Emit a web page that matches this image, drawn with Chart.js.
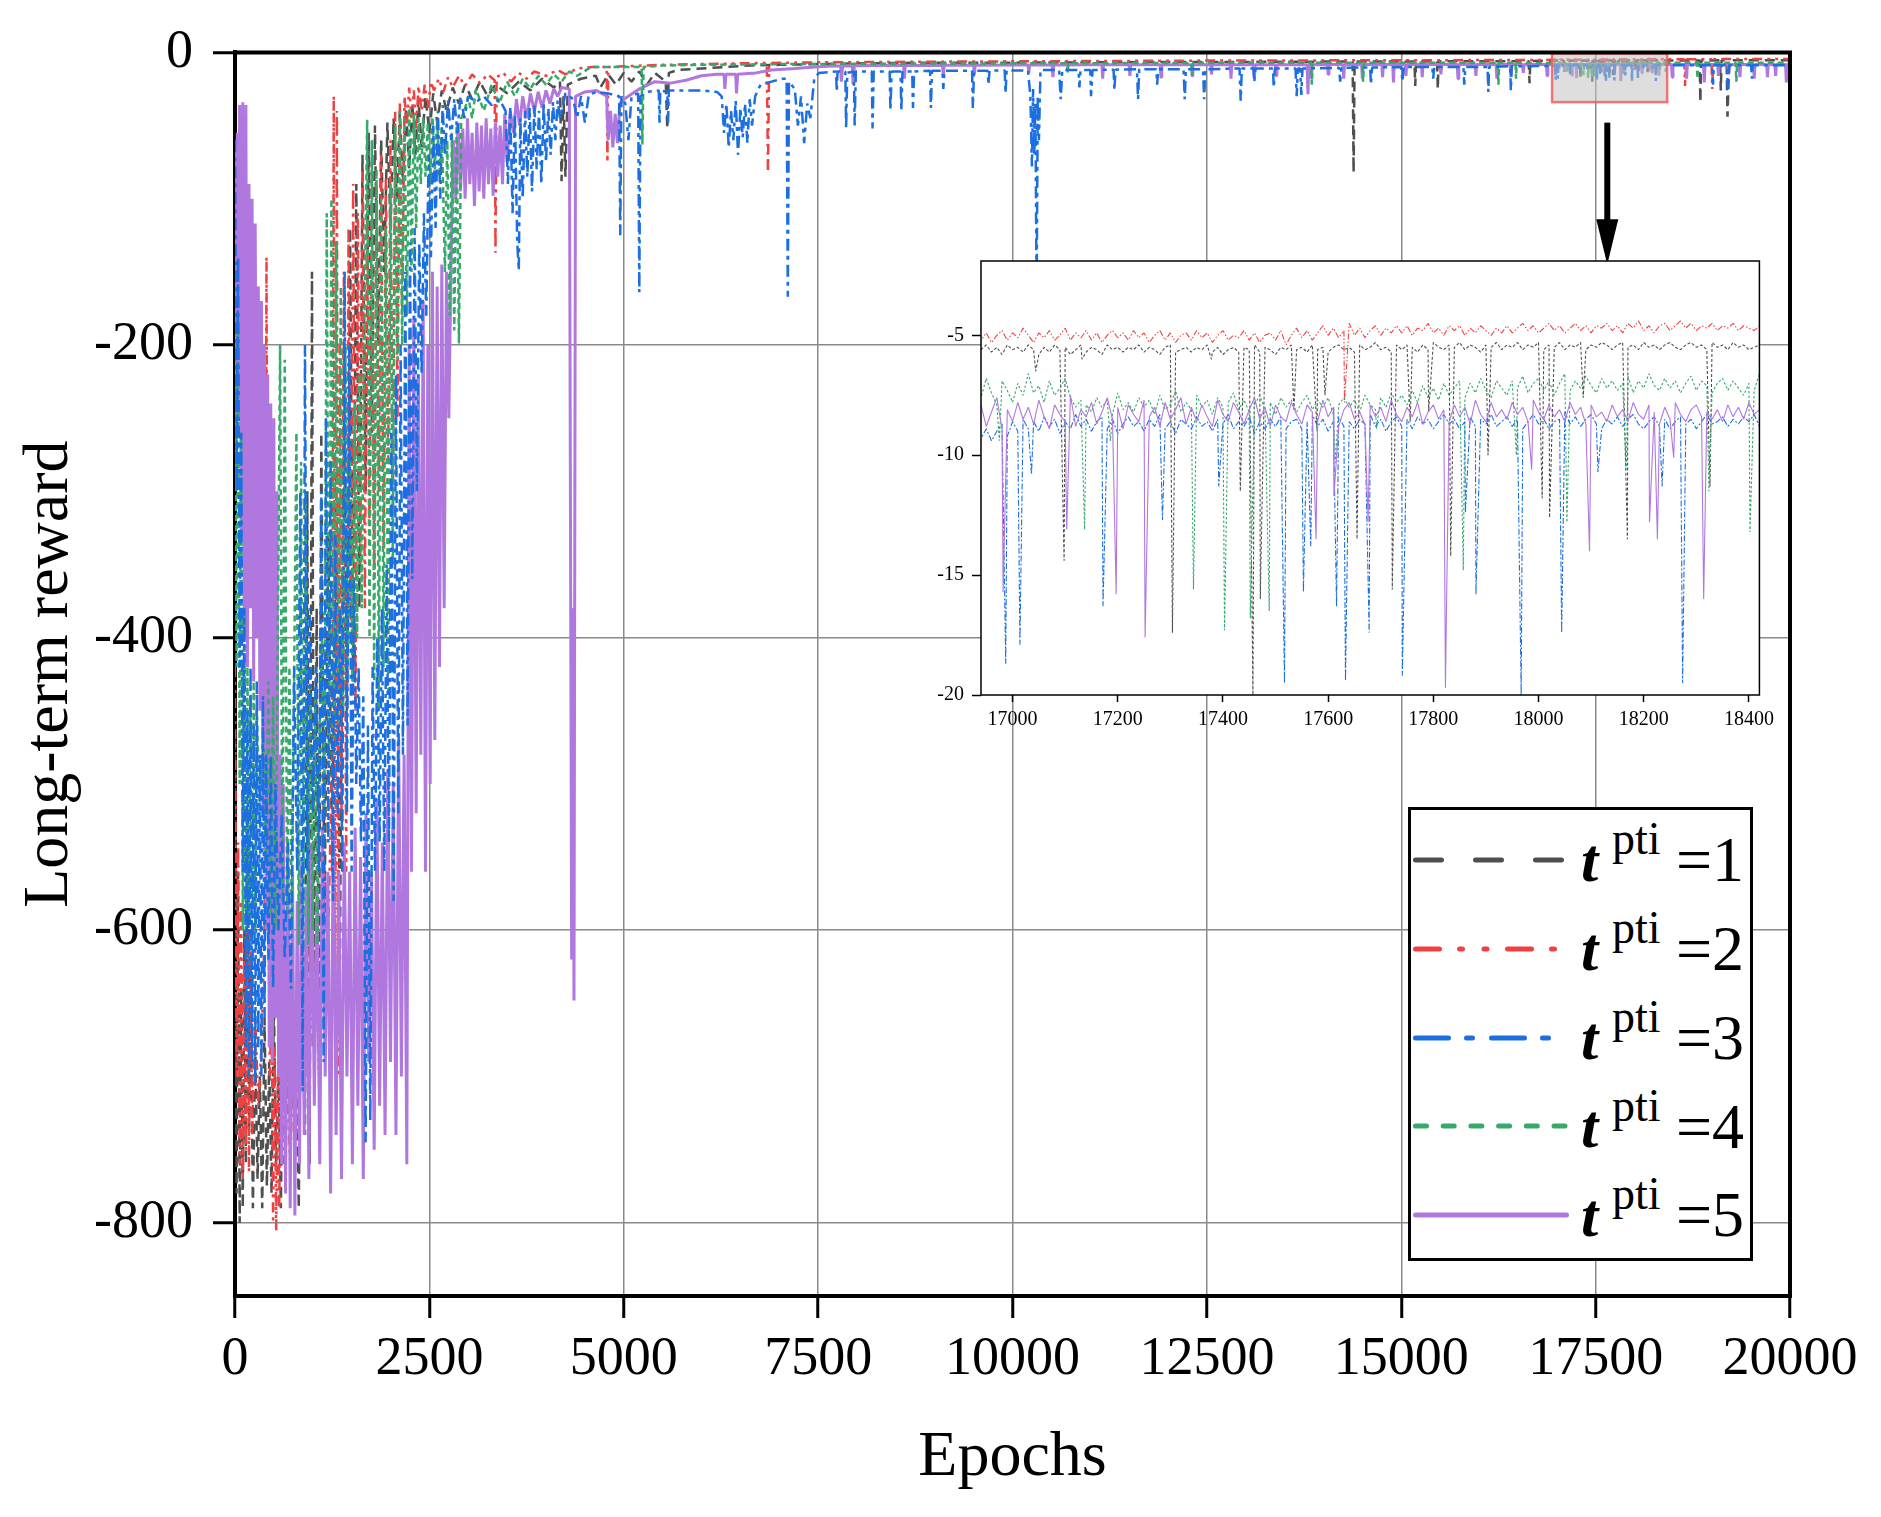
<!DOCTYPE html>
<html>
<head>
<meta charset="utf-8">
<script src="https://cdn.jsdelivr.net/npm/chart.js@4.4.1/dist/chart.umd.min.js"></script>
<style>
  body { margin: 0; background: #fff; }
  #wrap { position: relative; width: 1881px; height: 1517px; font-family: "Liberation Serif", "Times New Roman", serif; }
  #main { position: absolute; left: 0; top: 0; }
  #inset { position: absolute; left: 900px; top: 231px; }
  #legend { position: absolute; left: 1408px; top: 807px; width: 339px; height: 448px; border: 3px solid #000; background: #fff; }
  .row-line { position: absolute; left: 2px; }
  .txt { position: absolute; line-height: 1; white-space: nowrap; color: #000; }
</style>
</head>
<body>
<div id="wrap">
  <canvas id="main" width="1881" height="1517"></canvas>
  <canvas id="inset" width="880" height="520"></canvas>
  <div id="legend"></div>
</div>
<script>
// axis ticks
const xTicks = [0, 2500, 5000, 7500, 10000, 12500, 15000, 17500, 20000];
const yTicks = [-800, -600, -400, -200, 0];
const insetXTicks = [17000, 17200, 17400, 17600, 17800, 18000, 18200, 18400];
const insetYTicks = [-20, -15, -10, -5];

// zoomed window (grey box + inset)
const zoomMin = 16940;
const zoomMax = 18420;
const zoomStep = 10;

const seriesNames = ["1", "2", "3", "4", "5"];

// t_pti = 1 (long-run curve, outside the zoom window)
const main1 = [
  [0,-470],[20,-780],[40,-560],[60,-800],[80,-640],[100,-790],[120,-600],[140,-760],[160,-520],[180,-740],
  [200,-620],[230,-790],[260,-680],[290,-770],[320,-700],[350,-790],[380,-660],[410,-775],[440,-690],[470,-780],
  [500,-650],[530,-760],[560,-700],[590,-790],[620,-640],[650,-770],[690,-600],[730,-720],[780,-660],[820,-790],
  [860,-560],[900,-740],[930,-300],[960,-760],[990,-150],[1020,-700],[1050,-380],[1080,-680],[1110,-260],[1150,-600],
  [1200,-330],[1250,-560],[1300,-280],[1350,-620],[1400,-200],[1440,-450],[1480,-120],[1520,-430],[1560,-90],[1600,-380],
  [1640,-70],[1680,-300],[1720,-55],[1760,-260],[1800,-50],[1840,-200],[1880,-60],[1920,-150],[1960,-48],[2000,-120],
  [2040,-45],[2080,-100],[2120,-40],[2160,-90],[2200,-38],[2240,-80],[2280,-35],[2320,-70],[2360,-32],[2400,-65],
  [2450,-30],[2500,-55],[2550,-28],[2600,-48],[2660,-26],[2720,-40],[2800,-24],[2880,-35],[2960,-22],[3050,-32],
  [3150,-20],[3250,-30],[3350,-22],[3500,-28],[3650,-20],[3800,-26],[3950,-18],[4100,-24],[4180,-20],[4200,-88],
  [4225,-30],[4250,-85],[4280,-22],[4450,-18],[4640,-16],[4700,-24],[4800,-15],[4900,-22],[5000,-14],[5100,-20],
  [5200,-13],[5300,-22],[5400,-14],[5540,-20],[5560,-52],[5580,-14],[5700,-12],[6000,-11],[6300,-10],[6600,-9],
  [7000,-8.5],[7500,-8],[8000,-7.5],[9000,-7],[10000,-7],[11000,-6.8],[12000,-6.5],[13000,-6.5],[14000,-6.3],[14375,-6.3],
  [14387,-82],[14400,-6.3],[15170,-6.2],[15180,-23],[15190,-6.2],[15460,-6.1],[15470,-25],[15480,-6.1],[16000,-6],[16640,-6],
  [16650,-21],[16660,-5.9],[16930,-5.6],
  [18430,-5.5],[18838,-5.5],[18847,-34],[18856,-5.5],[19100,-5.4],[19110,-26],[19120,-5.4],[19185,-5.4],[19196,-44],[19210,-20],
  [19225,-5.4],[20000,-5.3]
];

// t_pti = 2
const main2 = [
  [0,-420],[20,-700],[40,-540],[60,-760],[80,-580],[100,-770],[120,-620],[140,-750],[160,-560],[180,-765],
  [200,-600],[220,-740],[260,-660],[300,-720],[340,-680],[380,-600],[405,-140],[425,-560],[450,-700],[470,-640],
  [490,-800],[510,-680],[530,-805],[550,-700],[570,-790],[590,-660],[630,-760],[670,-700],[710,-760],[750,-690],
  [800,-740],[850,-640],[900,-700],[950,-560],[1000,-680],[1040,-620],[1080,-700],[1110,-640],[1150,-560],[1200,-600],
  [1250,-480],[1270,-30],[1290,-650],[1310,-40],[1330,-700],[1350,-200],[1370,-520],[1400,-150],[1430,-560],[1460,-120],
  [1490,-400],[1520,-90],[1550,-450],[1580,-110],[1610,-350],[1640,-80],[1670,-380],[1700,-100],[1730,-330],[1760,-75],
  [1790,-360],[1820,-90],[1850,-300],[1880,-70],[1910,-340],[1940,-85],[1970,-280],[2000,-60],[2030,-320],[2060,-40],
  [2090,-250],[2120,-35],[2150,-180],[2180,-30],[2210,-50],[2240,-24],[2270,-45],[2300,-26],[2330,-52],[2360,-23],
  [2400,-40],[2440,-22],[2480,-38],[2520,-20],[2560,-26],[2620,-18],[2680,-27],[2740,-17],[2800,-24],[2880,-16],
  [2960,-23],[3050,-15],[3150,-21],[3250,-15],[3340,-19],[3350,-137],[3365,-17],[3450,-14],[3550,-20],[3650,-14],
  [3750,-18],[3850,-13],[4000,-16],[4150,-12],[4250,-15],[4400,-11],[4600,-10],[4780,-10],[4790,-75],[4800,-10],
  [5000,-9.5],[5500,-8.5],[6000,-8],[6500,-7.5],[6840,-7.2],[6855,-82],[6870,-7.2],[7500,-6.8],[8500,-6.5],[9500,-6.2],
  [10500,-6],[11500,-5.8],[12500,-5.6],[13500,-5.5],[14500,-5.4],[15500,-5.3],[16500,-5.2],[16930,-5.1],
  [18430,-4.7],[18640,-4.7],[18650,-23],[18660,-4.7],[18990,-4.6],[19000,-25],[19010,-4.6],[20000,-4.5]
];

// t_pti = 3
const main3 = [
  [0,-60],[20,-300],[40,-140],[60,-420],[80,-260],[100,-560],[120,-380],[140,-680],[160,-450],[180,-700],
  [200,-420],[220,-690],[240,-460],[260,-705],[280,-430],[300,-680],[320,-480],[340,-700],[360,-440],[380,-660],
  [400,-480],[430,-620],[460,-480],[490,-640],[520,-500],[560,-600],[600,-520],[640,-620],[680,-540],[720,-640],
  [760,-420],[800,-560],[840,-300],[870,-710],[900,-200],[930,-560],[960,-380],[1000,-520],[1040,-420],[1080,-560],
  [1110,-300],[1140,-690],[1170,-250],[1200,-540],[1230,-280],[1260,-580],[1290,-330],[1320,-520],[1350,-380],[1380,-560],
  [1410,-150],[1440,-520],[1470,-200],[1500,-560],[1530,-360],[1560,-500],[1590,-420],[1620,-540],[1650,-440],[1680,-745],
  [1710,-460],[1740,-730],[1770,-420],[1800,-560],[1830,-400],[1860,-540],[1890,-380],[1920,-560],[1950,-350],[1980,-540],
  [2010,-260],[2040,-580],[2070,-220],[2100,-520],[2130,-200],[2160,-480],[2190,-150],[2220,-460],[2250,-130],[2280,-360],
  [2310,-120],[2340,-300],[2370,-130],[2400,-220],[2430,-110],[2460,-180],[2490,-70],[2520,-140],[2550,-50],[2580,-120],
  [2610,-40],[2640,-100],[2670,-36],[2700,-70],[2740,-33],[2780,-60],[2820,-32],[2860,-55],[2900,-30],[2950,-45],
  [3000,-30],[3100,-34],[3200,-30],[3300,-36],[3400,-32],[3480,-40],[3510,-90],[3540,-38],[3570,-110],[3600,-42],
  [3630,-130],[3650,-149],[3670,-45],[3700,-100],[3730,-40],[3760,-85],[3790,-38],[3820,-95],[3850,-36],[3880,-80],
  [3910,-40],[3940,-90],[3970,-35],[4000,-75],[4030,-38],[4060,-70],[4090,-34],[4120,-60],[4150,-33],[4180,-45],
  [4250,-28],[4350,-32],[4400,-45],[4450,-30],[4500,-48],[4550,-29],[4650,-27],[4800,-28],[4940,-30],[4955,-125],
  [4970,-30],[5020,-35],[5060,-60],[5100,-30],[5185,-28],[5200,-164],[5215,-30],[5300,-27],[5450,-26],[5460,-48],
  [5470,-26],[5560,-27],[5570,-48],[5580,-26],[5800,-26],[6000,-26],[6200,-27],[6260,-30],[6290,-55],[6320,-35],
  [6350,-65],[6380,-40],[6410,-60],[6440,-33],[6470,-70],[6500,-38],[6530,-58],[6560,-35],[6590,-62],[6620,-32],
  [6650,-50],[6690,-30],[6760,-22],[6900,-20],[7050,-18],[7095,-18],[7110,-167],[7125,-20],[7200,-25],[7240,-50],
  [7280,-30],[7320,-62],[7360,-35],[7400,-45],[7450,-18],[7510,-14],[7730,-13],[7740,-27],[7750,-13],[7850,-13],
  [7860,-52],[7875,-14],[7960,-13],[7970,-50],[7985,-13],[8190,-13],[8200,-52],[8215,-13],[8420,-13],[8430,-40],
  [8445,-13],[8560,-13],[8570,-40],[8585,-13],[8710,-13],[8720,-38],[8735,-13],[8940,-12.5],[8950,-38],[8965,-12.5],
  [9100,-12.5],[9110,-25],[9125,-12.5],[9480,-12.5],[9490,-38],[9505,-12.5],[9680,-12.5],[9690,-22],[9705,-12.5],[9900,-12.3],
  [9910,-28],[9925,-12.3],[10200,-12.5],[10230,-30],[10250,-78],[10265,-25],[10280,-70],[10295,-35],[10310,-172],[10325,-30],
  [10340,-60],[10360,-12],[10600,-12],[10620,-32],[10640,-12],[10850,-12],[10860,-24],[10875,-12],[11000,-12],[11010,-30],
  [11030,-12],[11300,-11.8],[11310,-26],[11325,-11.8],[11600,-11.5],[11615,-32],[11630,-11.5],[11850,-11.6],[11860,-22],[11875,-11.6],
  [12200,-11.5],[12215,-32],[12230,-11.5],[12450,-11.5],[12465,-32],[12480,-11.5],[12920,-11],[12935,-33],[12950,-11],[13100,-11],
  [13110,-20],[13125,-11],[13350,-11],[13360,-24],[13375,-11],[13640,-11],[13655,-30],[13670,-11],[13700,-11],[13715,-29],
  [13730,-11],[14200,-10.5],[14215,-20],[14230,-10.5],[14600,-10.3],[14610,-22],[14625,-10.3],[15000,-10],[15015,-20],[15030,-10],
  [15400,-10],[15410,-18],[15425,-10],[15800,-10],[15810,-22],[15825,-10],[16110,-10],[16120,-27],[16130,-10],[16400,-9.5],
  [16410,-26],[16420,-9.5],[16930,-9.2],
  [18430,-8.7],[19000,-8.8],[19010,-22],[19020,-8.8],[19190,-8.8],[19200,-25],[19215,-8.8],[19500,-8.8],[19510,-18],[19520,-8.8],
  [20000,-8.7]
];

// t_pti = 4
const main4 = [
  [0,-200],[20,-420],[40,-190],[60,-500],[80,-260],[100,-600],[120,-380],[140,-610],[160,-420],[180,-590],
  [200,-440],[220,-610],[240,-430],[260,-600],[280,-450],[320,-520],[360,-470],[400,-560],[430,-430],[460,-590],
  [490,-440],[520,-600],[550,-400],[580,-200],[610,-580],[640,-210],[670,-590],[700,-420],[730,-600],[760,-430],
  [790,-260],[820,-610],[850,-280],[880,-590],[910,-300],[940,-610],[970,-420],[1000,-600],[1030,-440],[1060,-610],
  [1090,-460],[1120,-400],[1150,-520],[1180,-110],[1210,-500],[1240,-100],[1270,-480],[1300,-130],[1330,-460],[1360,-160],
  [1390,-450],[1420,-200],[1450,-420],[1480,-260],[1510,-430],[1540,-240],[1570,-400],[1600,-220],[1630,-380],[1660,-200],
  [1700,-46],[1730,-400],[1760,-60],[1790,-430],[1820,-80],[1850,-450],[1880,-100],[1910,-420],[1940,-120],[1970,-440],
  [2000,-90],[2030,-350],[2060,-50],[2090,-210],[2120,-40],[2150,-200],[2180,-45],[2210,-180],[2240,-38],[2270,-150],
  [2300,-42],[2330,-120],[2360,-45],[2390,-90],[2420,-45],[2450,-85],[2480,-48],[2510,-90],[2540,-44],[2570,-80],
  [2600,-46],[2630,-85],[2660,-50],[2700,-150],[2730,-60],[2760,-180],[2790,-55],[2820,-190],[2850,-50],[2880,-199],
  [2910,-45],[2950,-40],[3000,-30],[3050,-45],[3100,-25],[3200,-40],[3300,-22],[3400,-35],[3500,-20],[3600,-30],
  [3700,-18],[3800,-25],[3900,-16],[4000,-22],[4100,-15],[4200,-20],[4300,-13],[4400,-16],[4580,-10],[4800,-10],
  [5000,-10],[5230,-10],[5240,-63],[5255,-10],[5500,-9],[6000,-8.5],[7000,-8],[8000,-7.8],[9000,-7.6],[10000,-7.5],
  [10700,-7.4],[10710,-14],[10720,-7.4],[11000,-7.4],[12000,-7.2],[12300,-7.2],[12310,-16],[12320,-7.2],[13000,-7.1],[13840,-7],
  [13850,-22],[13860,-7],[14500,-7],[14510,-20],[14520,-7],[15000,-7],[16240,-7],[16250,-22],[16260,-7],[16470,-7],
  [16476,-18],[16485,-7],[16930,-7.4],
  [18430,-7.1],[18800,-7.1],[18810,-18],[18820,-7.1],[19300,-7],[19310,-20],[19320,-7],[20000,-7]
];

// t_pti = 5
const main5 = [
  [0,-60],[15,-300],[30,-55],[45,-250],[60,-36],[80,-330],[100,-34],[120,-400],[140,-36],[160,-420],
  [180,-90],[200,-380],[220,-100],[240,-430],[260,-117],[280,-400],[300,-160],[320,-450],[340,-170],[360,-520],
  [380,-200],[400,-600],[420,-220],[440,-680],[460,-240],[480,-690],[500,-250],[520,-660],[540,-300],[560,-700],
  [580,-480],[600,-760],[620,-500],[650,-780],[680,-540],[710,-790],[740,-560],[770,-795],[800,-580],[830,-760],
  [860,-550],[890,-740],[920,-570],[950,-770],[985,-540],[1020,-720],[1055,-570],[1090,-760],[1125,-530],[1160,-700],
  [1195,-560],[1230,-780],[1265,-520],[1300,-740],[1335,-560],[1370,-770],[1405,-540],[1440,-700],[1475,-560],[1510,-760],
  [1545,-530],[1580,-720],[1615,-550],[1650,-770],[1685,-520],[1720,-690],[1755,-560],[1790,-750],[1825,-510],[1860,-720],
  [1895,-540],[1930,-740],[1965,-490],[2000,-690],[2035,-500],[2070,-740],[2105,-470],[2140,-700],[2175,-480],[2210,-760],
  [2240,-200],[2270,-560],[2300,-180],[2330,-520],[2360,-220],[2390,-480],[2420,-170],[2450,-560],[2480,-200],[2510,-500],
  [2540,-150],[2570,-470],[2600,-160],[2630,-420],[2660,-145],[2690,-380],[2720,-150],[2750,-250],[2780,-140],[2810,-60],
  [2840,-100],[2870,-48],[2900,-95],[2930,-52],[2960,-100],[2990,-45],[3020,-90],[3050,-55],[3080,-105],[3110,-48],
  [3140,-95],[3170,-50],[3200,-100],[3230,-45],[3260,-90],[3290,-52],[3320,-98],[3350,-48],[3380,-85],[3410,-50],
  [3440,-90],[3470,-42],[3500,-75],[3540,-40],[3580,-55],[3620,-32],[3660,-50],[3700,-30],[3750,-45],[3800,-28],
  [3850,-40],[3900,-27],[3950,-38],[4000,-26],[4050,-35],[4100,-25],[4150,-30],[4200,-24],[4300,-25],[4330,-620],
  [4345,-380],[4360,-648],[4380,-30],[4500,-27],[4650,-26],[4780,-30],[4800,-60],[4830,-40],[4860,-65],[4890,-42],
  [4920,-62],[4950,-35],[5000,-32],[5200,-25],[5400,-20],[5600,-21],[5800,-19],[6000,-16],[6200,-15],[6290,-15],
  [6300,-25],[6315,-15],[6440,-15],[6450,-28],[6465,-15],[6700,-14],[6900,-12],[7200,-11],[7500,-9.8],[7700,-9.3],
  [7790,-9.3],[7800,-20],[7815,-9.3],[7940,-9.2],[7950,-22],[7965,-9.2],[8300,-9],[8600,-9],[8610,-18],[8620,-9],
  [9100,-8.8],[9110,-16],[9120,-8.8],[9500,-8.7],[9510,-15],[9520,-8.7],[10000,-8.6],[10200,-8.6],[10210,-14],[10220,-8.6],
  [10510,-8.6],[10520,-17],[10530,-8.6],[11000,-8.5],[11150,-8.5],[11160,-18],[11170,-8.5],[11500,-8.5],[11510,-16],[11520,-8.5],
  [11900,-8.4],[11910,-17],[11920,-8.4],[12300,-8.4],[12310,-16],[12320,-8.4],[12550,-8.4],[12560,-15],[12570,-8.4],[12800,-8.4],
  [12810,-18],[12820,-8.4],[13100,-8.4],[13110,-18],[13120,-8.4],[13380,-8.4],[13390,-16],[13400,-8.4],[13790,-8.4],[13800,-28.5],
  [13810,-8.4],[13835,-8.4],[13845,-18],[13855,-8.4],[14050,-8.3],[14060,-15],[14070,-8.3],[14250,-8.3],[14260,-18],[14270,-8.3],
  [14490,-8.3],[14500,-18],[14510,-8.3],[14750,-8.3],[14760,-17],[14770,-8.3],[14890,-8.3],[14900,-20.6],[14910,-8.3],[15050,-8.3],
  [15060,-16],[15070,-8.3],[15260,-8.3],[15270,-17],[15280,-8.3],[15500,-8.3],[15510,-15],[15520,-8.3],[15720,-8.3],[15730,-18],
  [15740,-8.3],[15950,-8.3],[15960,-16],[15970,-8.3],[16220,-8.3],[16230,-18],[16240,-8.3],[16400,-8.3],[16410,-17],[16420,-8.3],
  [16560,-8.3],[16570,-14],[16580,-8.3],[16866,-8.3],[16876,-16],[16886,-8.3],[16930,-8.2],
  [18430,-8.2],[18475,-8.2],[18485,-17],[18495,-8.2],[18660,-8.2],[18670,-18],[18680,-8.2],[18887,-8.2],[18897,-20.6],[18907,-8.2],
  [19070,-8.2],[19080,-16],[19090,-8.2],[19200,-8.2],[19210,-15],[19220,-8.2],[19346,-8.2],[19356,-17],[19366,-8.2],[19530,-8.2],
  [19540,-18],[19550,-8.2],[19700,-8.2],[19710,-17],[19720,-8.2],[19805,-8.2],[19815,-16],[19825,-8.2],[19943,-8.2],[19953,-20.6],
  [19963,-8.2],[20000,-8.2]
];

// zoom window, one value every 10 epochs from 16940 to 18420
const band1 = [
  -5.6,-5.4,-5.7,-5.5,-5.8,-5.4,-5.6,-5.5,-5.7,-5.4,
  -5.6,-5.8,-5.5,-5.7,-5.4,-5.6,-5.5,-5.8,-5.6,-5.4,
  -5.7,-5.5,-5.6,-5.8,-5.4,-5.6,-5.5,-5.7,-5.5,-5.6,
  -5.4,-5.7,-5.5,-5.6,-5.8,-5.5,-5.4,-5.7,-5.6,-5.5,
  -5.7,-5.5,-5.6,-5.4,-5.7,-5.5,-5.8,-5.6,-5.5,-5.7,
  -5.5,-5.6,-5.4,-5.7,-5.5,-5.6,-5.8,-5.5,-5.6,-5.4,
  -5.6,-5.5,-5.7,-5.4,-5.6,-5.5,-5.7,-5.5,-5.4,-5.6,
  -5.5,-5.7,-5.4,-5.6,-5.5,-5.3,-5.6,-5.5,-5.7,-5.4,
  -5.6,-5.4,-5.5,-5.7,-5.4,-5.6,-5.3,-5.5,-5.6,-5.4,
  -5.5,-5.3,-5.6,-5.4,-5.5,-5.7,-5.4,-5.5,-5.3,-5.6,
  -5.4,-5.5,-5.3,-5.6,-5.4,-5.5,-5.3,-5.6,-5.4,-5.5,
  -5.3,-5.6,-5.4,-5.5,-5.3,-5.6,-5.4,-5.5,-5.3,-5.4,
  -5.6,-5.4,-5.3,-5.5,-5.4,-5.6,-5.3,-5.5,-5.4,-5.6,
  -5.4,-5.3,-5.5,-5.6,-5.4,-5.3,-5.5,-5.4,-5.6,-5.3,
  -5.5,-5.4,-5.6,-5.3,-5.5,-5.4,-5.6,-5.5,-5.4
];
const band2 = [
  -5.2,-4.9,-5.3,-5.0,-4.8,-5.2,-4.9,-5.1,-4.7,-5.0,
  -5.3,-4.9,-5.1,-4.8,-5.2,-5.0,-4.7,-5.2,-4.9,-5.1,
  -4.8,-5.2,-4.9,-5.3,-5.0,-4.8,-5.1,-4.9,-5.2,-4.8,
  -5.1,-4.9,-5.3,-5.0,-4.8,-5.2,-4.9,-5.3,-5.0,-4.9,
  -5.2,-4.8,-5.1,-4.9,-5.3,-5.0,-4.8,-5.2,-5.0,-5.1,
  -4.8,-5.2,-4.9,-5.3,-5.0,-4.9,-5.2,-4.8,-5.4,-5.0,
  -4.7,-5.1,-4.8,-5.2,-4.9,-4.6,-5.0,-4.7,-5.1,-4.8,
  -4.5,-5.0,-4.7,-5.1,-4.8,-4.6,-5.0,-4.7,-4.9,-4.6,
  -4.9,-4.6,-5.0,-4.7,-4.8,-4.5,-4.9,-4.7,-5.0,-4.6,
  -4.8,-4.6,-5.0,-4.7,-4.9,-4.6,-4.8,-5.0,-4.7,-4.9,
  -4.6,-4.9,-4.7,-4.5,-4.8,-4.6,-4.9,-4.7,-4.5,-4.8,
  -4.6,-4.9,-4.7,-4.5,-4.8,-4.6,-4.9,-4.6,-4.7,-4.5,
  -4.8,-4.6,-4.9,-4.5,-4.7,-4.4,-4.8,-4.6,-4.9,-4.6,
  -4.5,-4.8,-4.6,-4.4,-4.7,-4.5,-4.8,-4.6,-4.7,-4.5,
  -4.8,-4.6,-4.7,-4.5,-4.8,-4.6,-4.7,-4.8,-4.6
];
const band3 = [
  -9.3,-8.9,-9.4,-9.0,-8.7,-9.2,-8.6,-9.0,-8.5,-8.9,
  -8.6,-9.0,-8.4,-8.8,-8.5,-9.1,-8.6,-8.9,-8.3,-8.8,
  -8.5,-9.0,-8.6,-8.4,-8.9,-8.5,-9.1,-8.7,-8.4,-8.8,
  -8.6,-9.0,-8.5,-8.8,-8.3,-8.9,-8.6,-9.1,-8.5,-8.7,
  -8.9,-8.4,-8.8,-8.6,-9.0,-8.5,-8.7,-8.3,-8.9,-8.6,
  -8.8,-8.4,-9.1,-8.6,-8.9,-8.5,-8.8,-8.4,-8.9,-8.6,
  -8.5,-8.9,-8.6,-8.3,-8.8,-8.5,-9.0,-8.6,-8.4,-8.8,
  -8.6,-8.9,-8.5,-8.7,-8.3,-8.8,-8.5,-9.0,-8.6,-8.4,
  -8.8,-8.5,-8.9,-8.4,-8.7,-8.5,-8.9,-8.6,-8.3,-8.7,
  -8.5,-8.9,-8.6,-8.4,-8.8,-8.5,-8.7,-8.3,-8.8,-8.6,
  -8.4,-8.8,-8.5,-8.9,-8.6,-8.3,-8.7,-8.5,-8.9,-8.6,
  -8.5,-8.2,-8.7,-8.4,-8.8,-8.5,-8.3,-8.7,-8.9,-8.5,
  -8.7,-8.4,-8.8,-8.5,-8.3,-8.7,-8.9,-8.6,-8.4,-8.8,
  -8.5,-8.9,-8.6,-8.4,-8.7,-8.5,-8.9,-8.6,-8.3,-8.7,
  -8.6,-8.4,-8.8,-8.5,-8.7,-8.4,-8.6,-8.3,-8.8
];
const band4 = [
  -7.6,-6.8,-7.4,-7.9,-6.9,-7.3,-7.8,-7.0,-7.5,-6.6,
  -7.4,-7.1,-7.8,-6.9,-7.5,-7.2,-6.8,-7.6,-8.0,-7.7,
  -7.9,-8.2,-7.6,-8.0,-7.7,-8.3,-7.4,-8.1,-7.8,-8.2,
  -7.6,-8.0,-7.7,-8.3,-7.5,-8.1,-7.9,-7.3,-8.2,-7.8,
  -8.1,-7.5,-8.0,-7.7,-8.3,-7.6,-8.0,-7.8,-7.4,-8.1,
  -7.7,-8.2,-7.9,-7.5,-8.1,-7.8,-8.3,-7.6,-8.0,-7.7,
  -8.2,-7.8,-7.5,-8.1,-7.7,-8.0,-7.6,-8.3,-7.9,-7.6,
  -8.0,-7.7,-8.2,-7.5,-7.9,-8.1,-7.6,-8.0,-7.4,-7.8,
  -7.5,-7.9,-7.3,-7.8,-7.1,-7.6,-7.2,-7.7,-7.0,-7.5,
  -7.2,-6.9,-7.6,-7.0,-7.4,-6.8,-7.3,-7.6,-6.9,-7.2,
  -7.5,-6.9,-7.2,-6.7,-7.4,-7.0,-6.8,-7.3,-6.9,-7.5,
  -7.0,-6.6,-7.3,-6.9,-7.2,-6.7,-7.1,-7.4,-6.8,-7.2,
  -6.9,-7.3,-7.0,-6.7,-7.4,-6.9,-7.2,-6.6,-7.1,-7.3,
  -6.8,-7.2,-6.9,-7.4,-7.0,-6.7,-7.3,-6.9,-7.1,-7.4,
  -7.0,-6.8,-7.3,-6.9,-7.2,-7.5,-7.0,-7.3,-6.6
];
const band5 = [
  -7.9,-8.8,-8.2,-7.6,-8.9,-8.1,-8.6,-7.8,-8.5,-8.0,
  -8.7,-7.7,-8.4,-8.9,-7.9,-8.3,-8.6,-7.5,-8.8,-8.1,
  -8.4,-7.8,-8.7,-8.2,-7.6,-8.5,-8.0,-8.9,-7.9,-8.3,
  -8.6,-7.7,-8.4,-8.0,-8.8,-7.8,-8.5,-8.1,-7.6,-8.7,
  -8.0,-8.6,-7.9,-8.4,-8.8,-7.7,-8.3,-8.6,-7.8,-8.2,
  -8.7,-8.1,-7.6,-8.5,-8.0,-8.8,-7.9,-8.4,-8.6,-7.8,
  -8.3,-8.7,-7.9,-8.2,-8.6,-7.7,-8.4,-8.0,-8.8,-8.1,
  -7.8,-8.5,-8.2,-8.7,-7.9,-8.4,-8.0,-8.6,-7.7,-8.3,
  -8.6,-8.0,-8.4,-7.8,-8.7,-8.2,-7.9,-8.5,-8.1,-8.6,
  -7.9,-8.4,-8.0,-8.7,-7.7,-8.3,-8.6,-7.8,-8.4,-8.1,
  -8.5,-7.8,-8.3,-8.0,-8.6,-7.7,-8.2,-8.5,-7.9,-8.4,
  -8.1,-8.6,-7.8,-8.3,-8.0,-8.7,-7.9,-8.4,-8.2,-8.6,
  -7.9,-8.4,-8.1,-8.6,-7.8,-8.3,-8.5,-7.9,-8.2,-8.7,
  -8.0,-8.5,-7.8,-8.3,-8.6,-8.1,-7.9,-8.4,-8.2,-8.5,
  -8.1,-8.6,-7.9,-8.4,-8.0,-8.5,-7.8,-8.3,-8.1
];

// single-epoch drops inside the zoom window
const spikes1 = [[17044,-6.5],[17098,-14.4],[17132,-6.0],[17304,-17.4],[17378,-6.0],[17433,-11.5],[17457,-20],[17471,-16],
  [17535,-8.1],[17579,-9],[17594,-7.5],[17655,-13.5],[17722,-15.6],[17756,-8.6],[17791,-8.2],[17833,-14.2],[17904,-10],
  [18007,-11.8],[18021,-12.6],[18085,-7.6],[18169,-13.5],[18326,-11.3]];
const spikes2 = [[17631,-7.8]];
const spikes3 = [[16987,-18.7],[17014,-17.9],[17036,-10.8],[17172,-16.3],[17285,-12.7],[17392,-11.3],[17517,-19.5],
  [17553,-15.7],[17567,-13.8],[17616,-16.3],[17633,-19.4],[17678,-17.4],[17741,-19.2],[17861,-12.4],[17881,-15.8],
  [17967,-20],[18044,-17.4],[18113,-10.7],[18235,-11.3],[18274,-19.5]];
const spikes4 = [[16975,-9.4],[17137,-13.1],[17186,-9.4],[17344,-15.6],[17403,-17.3],[17452,-16.8],[17488,-16.5],
  [17614,-10.3],[17692,-8.9],[17857,-14.8],[17958,-10.0],[18054,-12.8],[18167,-10.6],[18324,-11.5],[18402,-13.2]];
const spikes5 = [[16982,-15.7],[17103,-13.1],[17197,-15.8],[17252,-17.6],[17577,-13.5],[17611,-11.7],[17676,-12.8],
  [17823,-19.7],[17987,-10.6],[18097,-14],[18211,-12.8],[18226,-13.5],[18257,-10.1],[18314,-16.0]];

const colors = ["#4f4f4f", "#ef4141", "#1c6fe0", "#37a96a", "#b077de"];
const mainDashes = [[10, 6], [10, 5, 3, 5, 3, 5], [12, 5, 4, 5], [6, 4], []];
const insetDashes = [[3, 2], [6, 2, 1.5, 2, 1.5, 2], [6, 2, 2, 2], [2.5, 2], []];
const legendDashes = [[26, 34], [24, 20, 3, 21.5, 3, 20.5], [33, 18, 6, 19], [11, 16.7], []];
// lower order = drawn on top
const mainOrder = [4, 3, 0, 1, 2];
const insetOrder = [4, 3, 1, 2, 0];
const fontFamily = "'Liberation Serif', 'Times New Roman', serif";

function buildSeries(main, band, spikes) {
  const bandPts = band.map((v, i) => [zoomMin + i * zoomStep, v]);
  return main.concat(bandPts, spikes).sort((a, b) => a[0] - b[0]);
}

const seriesData = [
  buildSeries(main1, band1, spikes1),
  buildSeries(main2, band2, spikes2),
  buildSeries(main3, band3, spikes3),
  buildSeries(main4, band4, spikes4),
  buildSeries(main5, band5, spikes5)
];

// marker for the zoomed window
const markBottom = -34;
const arrowEpoch = 17650;
const arrowFrom = -48;
const arrowHeadStart = -114;
const arrowTo = -145;

const frame = {
  id: "frame",
  afterDatasetsDraw(chart) {
    const { ctx, chartArea: a } = chart;
    ctx.save();
    ctx.strokeStyle = "#000";
    ctx.lineWidth = 4;
    ctx.beginPath();
    ctx.moveTo(a.left - 2, a.top);
    ctx.lineTo(a.right, a.top);
    ctx.lineTo(a.right, a.bottom + 2);
    ctx.stroke();
    ctx.restore();
  }
};

const zoomMark = {
  id: "zoomMark",
  afterDatasetsDraw(chart) {
    const { ctx, scales: { x, y } } = chart;
    const x0 = x.getPixelForValue(zoomMin);
    const x1 = x.getPixelForValue(zoomMax);
    const y0 = y.getPixelForValue(0) + 1;
    const y1 = y.getPixelForValue(markBottom);
    ctx.save();
    ctx.fillStyle = "rgba(195,195,195,0.55)";
    ctx.fillRect(x0, y0, x1 - x0, y1 - y0);
    ctx.strokeStyle = "rgba(240,95,95,0.85)";
    ctx.lineWidth = 2.5;
    ctx.strokeRect(x0, y0, x1 - x0, y1 - y0);
    const ax = x.getPixelForValue(arrowEpoch);
    const ay0 = y.getPixelForValue(arrowFrom);
    const ah = y.getPixelForValue(arrowHeadStart);
    const ay1 = y.getPixelForValue(arrowTo);
    ctx.fillStyle = "#000";
    ctx.fillRect(ax - 3, ay0, 6, ah - ay0 + 1);
    ctx.beginPath();
    ctx.moveTo(ax - 11, ah);
    ctx.lineTo(ax + 11, ah);
    ctx.lineTo(ax, ay1);
    ctx.closePath();
    ctx.fill();
    ctx.restore();
  }
};

const insetBox = {
  id: "insetBox",
  beforeDraw(chart) {
    const { ctx, chartArea: a } = chart;
    ctx.save();
    ctx.fillStyle = "#fff";
    ctx.fillRect(a.left, a.top, a.right - a.left, a.bottom - a.top);
    ctx.restore();
  },
  afterDatasetsDraw(chart) {
    const { ctx, chartArea: a } = chart;
    ctx.save();
    ctx.strokeStyle = "#000";
    ctx.lineWidth = 1.5;
    ctx.strokeRect(a.left, a.top, a.right - a.left, a.bottom - a.top);
    ctx.restore();
  }
};

// main chart
new Chart(document.getElementById("main"), {
  type: "line",
  data: {
    datasets: seriesData.map((pts, i) => ({
      label: "t pti =" + seriesNames[i],
      data: pts,
      borderColor: colors[i],
      borderWidth: i === 4 ? 3 : 2.5,
      borderDash: mainDashes[i],
      borderJoinStyle: "bevel",
      pointRadius: 0,
      tension: 0,
      order: mainOrder[i]
    }))
  },
  options: {
    responsive: false,
    animation: false,
    devicePixelRatio: 1,
    events: [],
    layout: { padding: { left: 0, top: 43, right: 91, bottom: 0 } },
    plugins: { legend: { display: false }, tooltip: { enabled: false } },
    scales: {
      x: {
        type: "linear",
        min: 0,
        max: 20000,
        afterBuildTicks: (s) => { s.ticks = xTicks.map((v) => ({ value: v })); },
        afterFit: (s) => { s.height = 221; },
        grid: { color: "#8a8a8a", lineWidth: 1.5, tickColor: "#000", tickWidth: 3, tickLength: 22 },
        border: { color: "#000", width: 4 },
        ticks: {
          color: "#000", padding: 9, autoSkip: false, maxRotation: 0,
          font: { family: fontFamily, size: 54 },
          callback: (v) => String(v)
        },
        title: {
          display: true, text: "Epochs", color: "#000",
          font: { family: fontFamily, size: 64 },
          padding: { top: 0, bottom: 20 }
        }
      },
      y: {
        type: "linear",
        min: -850,
        max: 0,
        afterBuildTicks: (s) => { s.ticks = yTicks.map((v) => ({ value: v })); },
        afterFit: (s) => { s.width = 235; },
        grid: { color: "#8a8a8a", lineWidth: 1.5, tickColor: "#000", tickWidth: 3, tickLength: 22 },
        border: { color: "#000", width: 4 },
        ticks: {
          color: "#000", padding: 20,
          font: { family: fontFamily, size: 54 },
          callback: (v) => String(v)
        },
        title: {
          display: true, text: "Long-term reward", color: "#000",
          font: { family: fontFamily, size: 64 },
          padding: { top: 12, bottom: 0 }
        }
      }
    }
  },
  plugins: [zoomMark, frame]
});

// inset chart, same data restricted to the zoom window
new Chart(document.getElementById("inset"), {
  type: "line",
  data: {
    datasets: seriesData.map((pts, i) => ({
      data: pts,
      borderColor: colors[i],
      borderWidth: 1.1,
      borderDash: insetDashes[i],
      borderJoinStyle: "bevel",
      pointRadius: 0,
      tension: 0,
      order: insetOrder[i]
    }))
  },
  options: {
    responsive: false,
    animation: false,
    devicePixelRatio: 1,
    events: [],
    layout: { padding: { left: 0, top: 30, right: 7, bottom: 0 } },
    plugins: { legend: { display: false }, tooltip: { enabled: false } },
    scales: {
      x: {
        type: "linear",
        min: zoomMin,
        max: zoomMax,
        afterBuildTicks: (s) => { s.ticks = insetXTicks.map((v) => ({ value: v })); },
        afterFit: (s) => { s.height = 56; },
        grid: { drawOnChartArea: false, tickColor: "#000", tickWidth: 1.5, tickLength: 7 },
        border: { display: false },
        ticks: {
          color: "#000", padding: 6, autoSkip: false, maxRotation: 0,
          font: { family: fontFamily, size: 20 },
          callback: (v) => String(v)
        }
      },
      y: {
        type: "linear",
        min: -20,
        max: -1.9,
        afterBuildTicks: (s) => { s.ticks = insetYTicks.map((v) => ({ value: v })); },
        afterFit: (s) => { s.width = 81; },
        grid: { drawOnChartArea: false, tickColor: "#000", tickWidth: 1.5, tickLength: 9 },
        border: { display: false },
        ticks: {
          color: "#000", padding: 8,
          font: { family: fontFamily, size: 20 },
          callback: (v) => String(v)
        }
      }
    }
  },
  plugins: [insetBox]
});

// legend with superscript labels
const legendBox = document.getElementById("legend");
seriesNames.forEach((name, i) => {
  const c = 50 + i * 88.75;
  const dash = legendDashes[i].length ? legendDashes[i].join(" ") : "none";
  let html = `<svg class="row-line" style="top:${c - 7}px" width="156" height="14">` +
    `<line x1="2.5" y1="7" x2="153.5" y2="7" stroke="${colors[i]}" stroke-width="5" stroke-linecap="round" stroke-dasharray="${dash}"/></svg>`;
  html += `<div class="txt" style="left:170px;top:${c + 21 - 0.8375 * 62}px;font-size:62px;font-style:italic;font-weight:bold">t</div>`;
  html += `<div class="txt" style="left:201px;top:${c - 5 - 0.8375 * 46}px;font-size:46px">pti</div>`;
  html += `<div class="txt" style="left:265px;top:${c + 22 - 0.8375 * 64}px;font-size:64px">=${name}</div>`;
  legendBox.insertAdjacentHTML("beforeend", html);
});
</script>
</body>
</html>
